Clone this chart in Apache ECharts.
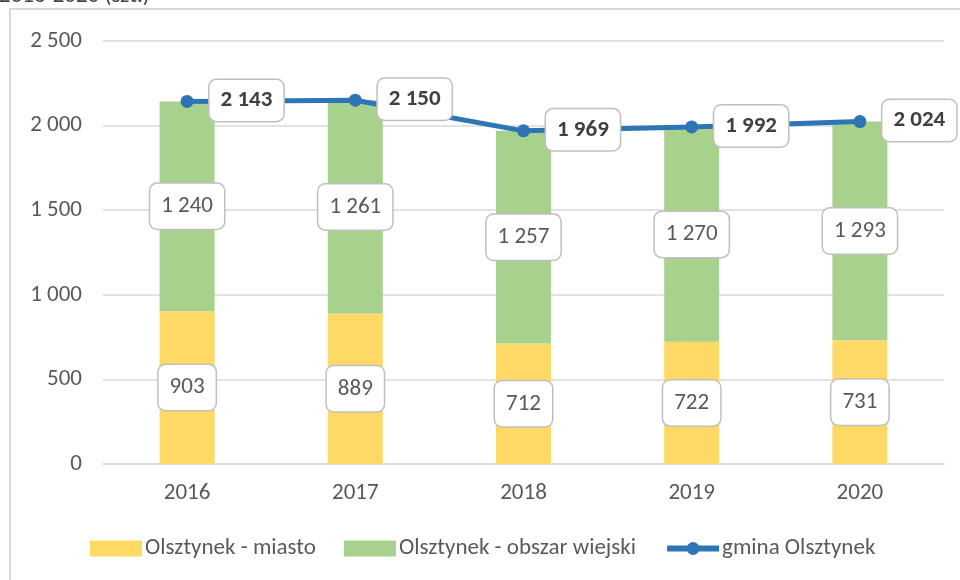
<!DOCTYPE html>
<html>
<head>
<meta charset="utf-8">
<script src="https://cdn.jsdelivr.net/npm/echarts@6/dist/echarts.min.js"></script>
<style>
  html, body { margin: 0; padding: 0; background: #fff; }
  #chart { width: 960px; height: 580px; }
</style>
</head>
<body>
<div id="chart"></div>
<script>
const years = ["2016", "2017", "2018", "2019", "2020"];
const miasto = [903, 889, 712, 722, 731];
const wies = [1240, 1261, 1257, 1270, 1293];
const gmina = [2143, 2150, 1969, 1992, 2024];
const yTicks = [0, 500, 1000, 1500, 2000, 2500];

const FONT = "Carlito, 'Liberation Sans', sans-serif";

// liczby ze spacja jako separatorem tysiecy
function fmt(v) {
  return String(v).replace(/\B(?=(\d{3})+(?!\d))/g, " ");
}

const boxLabel = {
  show: true,
  fontFamily: FONT,
  fontSize: 23,
  lineHeight: 23,
  color: "#595959",
  backgroundColor: "#fff",
  borderColor: "#BFBFBF",
  borderWidth: 1.5,
  borderRadius: 7,
  padding: [11, 11],
  formatter: (p) => fmt(p.value),
};

let myChart = echarts.init(document.getElementById("chart"));
myChart.setOption({
  animation: false,
  textStyle: { fontFamily: FONT },
  graphic: [
    {
      type: "rect",
      shape: { x: 10, y: 9, width: 980, height: 600 },
      style: { fill: "none", stroke: "#D9D9D9", lineWidth: 2 },
    },
    {
      type: "text",
      left: -1,
      top: -15,
      style: { text: "2016-2020 (szt.)", fontSize: 23, fill: "#404040", fontFamily: FONT },
    },
  ],
  grid: { left: 103, right: 16, top: 41, bottom: 116 },
  legend: {
    bottom: 15,
    left: 85,
    itemWidth: 52,
    itemHeight: 16,
    itemGap: 28,
    textStyle: { fontSize: 23, color: "#595959", fontFamily: FONT, padding: [0, 0, 0, -2] },
    data: [
      { name: "Olsztynek - miasto", icon: "rect" },
      { name: "Olsztynek - obszar wiejski", icon: "rect" },
      { name: "gmina Olsztynek", lineStyle: { width: 6 }, itemStyle: { borderWidth: 0 } },
    ],
  },
  xAxis: {
    type: "category",
    data: years,
    axisLine: { lineStyle: { color: "#D9D9D9", width: 1.5 } },
    axisTick: { show: false },
    axisLabel: { fontSize: 23, color: "#595959", margin: 18 },
  },
  yAxis: {
    type: "value",
    min: yTicks[0],
    max: yTicks[yTicks.length - 1],
    interval: 500,
    axisLine: { show: false },
    axisTick: { show: false },
    splitLine: { lineStyle: { color: "#D9D9D9", width: 1.5 } },
    axisLabel: { fontSize: 23, color: "#595959", margin: 21, formatter: (v) => fmt(v) },
  },
  series: [
    {
      name: "Olsztynek - miasto",
      type: "bar",
      stack: "a",
      barWidth: 55,
      data: miasto,
      itemStyle: { color: "#FFD966" },
      label: Object.assign({}, boxLabel, { position: "inside" }),
    },
    {
      name: "Olsztynek - obszar wiejski",
      type: "bar",
      stack: "a",
      barWidth: 55,
      data: wies,
      itemStyle: { color: "#A9D18E" },
      label: Object.assign({}, boxLabel, { position: "inside" }),
    },
    {
      name: "gmina Olsztynek",
      type: "line",
      data: gmina,
      symbol: "circle",
      symbolSize: 13,
      lineStyle: { color: "#2E75B6", width: 5 },
      itemStyle: { color: "#2E75B6" },
      z: 5,
      label: Object.assign({}, boxLabel, {
        position: "right",
        distance: 16,
        offset: [0, -1],
        fontWeight: "bold",
        color: "#404040",
        padding: [9, 11],
      }),
    },
  ],
});
</script>
</body>
</html>
